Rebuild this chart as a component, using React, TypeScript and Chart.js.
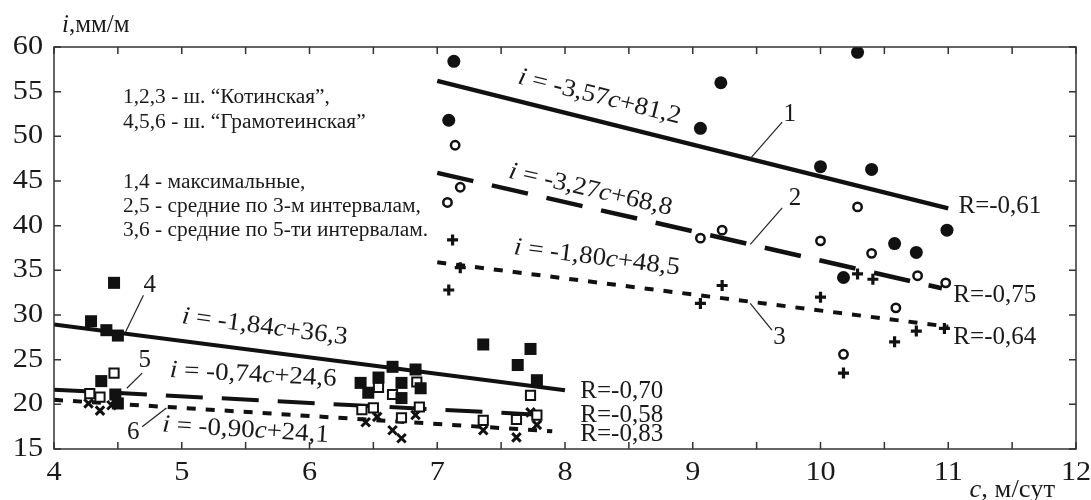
import React, { useEffect, useRef } from "react";
import { Chart, registerables } from "chart.js";

Chart.register(...registerables);

const FONT = '"Liberation Serif", "DejaVu Serif", serif';

// ---- axis ticks ----
const xTickValues = [4, 5, 6, 7, 8, 9, 10, 11, 12];
const yTickValues = [15, 20, 25, 30, 35, 40, 45, 50, 55, 60];

// ---- series: Котинская (1 max, 2 avg 3 intervals, 3 avg 5 intervals) ----
const s1C = [7.13, 7.09, 9.06, 9.22, 10.29, 10.0, 10.4, 10.99, 10.58, 10.75, 10.18];
const s1I = [58.4, 51.8, 50.9, 56.0, 59.4, 46.6, 46.3, 39.5, 38.0, 37.0, 34.2];

const s2C = [7.14, 7.08, 7.18, 9.06, 9.23, 10.29, 10.0, 10.4, 10.76, 10.98, 10.59, 10.18];
const s2I = [49.0, 42.6, 44.3, 38.6, 39.5, 42.1, 38.3, 36.9, 34.4, 33.6, 30.8, 25.6];

const s3C = [7.12, 7.18, 7.09, 9.06, 9.23, 10.0, 10.29, 10.41, 10.58, 10.75, 10.97, 10.18];
const s3I = [38.4, 35.3, 32.8, 31.3, 33.3, 32.0, 34.6, 34.0, 27.0, 28.2, 28.5, 23.5];

// ---- series: Грамотеинская (4 max, 5 avg 3 intervals, 6 avg 5 intervals) ----
const s4C = [4.47, 4.29, 4.41, 4.5, 4.37, 4.48, 4.5, 6.4, 6.46, 6.54, 6.65, 6.72, 6.72, 6.83, 6.87, 7.36, 7.63, 7.73, 7.78];
const s4I = [33.6, 29.3, 28.3, 27.7, 22.6, 21.1, 20.1, 22.4, 21.3, 23.0, 24.2, 22.4, 20.7, 23.9, 21.8, 26.7, 24.4, 26.2, 22.7];

const s5C = [4.47, 4.28, 4.36, 6.41, 6.5, 6.54, 6.65, 6.72, 6.84, 6.86, 7.36, 7.62, 7.73, 7.78];
const s5I = [23.5, 21.2, 20.8, 19.4, 19.6, 21.9, 21.1, 18.5, 22.5, 19.7, 18.2, 18.3, 21.0, 18.8];

const s6C = [4.27, 4.36, 4.45, 4.5, 6.44, 6.53, 6.65, 6.72, 6.83, 7.36, 7.62, 7.73, 7.78];
const s6I = [20.1, 19.3, 19.9, 20.0, 18.0, 18.6, 17.1, 16.2, 18.8, 17.1, 16.3, 19.1, 17.7];

// ---- regression lines i = a*c + b ----
const lineSlopes = [-3.57, -3.27, -1.8, -1.84, -0.74, -0.9];
const lineIntercepts = [81.2, 68.8, 48.5, 36.3, 24.6, 24.1];
const lineStarts = [7, 7, 7, 4, 4, 4];
const lineEnds = [11, 10.95, 11, 8, 7.8, 7.9];
const lineR = ["R=-0,61", "R=-0,75", "R=-0,64", "R=-0,70", "R=-0,58", "R=-0,83"];

// ---- legend text ----
const noteLines = [
  "1,2,3 - ш. “Котинская”,",
  "4,5,6 - ш. “Грамотеинская”",
  "1,4 - максимальные,",
  "2,5 - средние по 3-м интервалам,",
  "3,6 - средние по 5-ти интервалам.",
];

// annotation placements (data coordinates)
const eqCenters = [
  [8.27, 54.4],
  [8.2, 44.0],
  [8.25, 36.4],
  [5.65, 28.65],
  [5.56, 23.3],
  [5.5, 17.1],
];
const rLabelPos = [
  [11.08, 42.1],
  [11.04, 32.2],
  [11.04, 27.5],
  [8.12, 21.4],
  [8.12, 18.8],
  [8.12, 16.6],
];
// [textC, textI, fromC, fromI, toC, toI]
const numberLabels = [
  [9.76, 52.4, 9.45, 47.5, 9.7, 51.6],
  [9.8, 43.1, 9.45, 37.9, 9.7, 42.0],
  [9.68, 27.5, 9.45, 31.3, 9.62, 28.3],
  [4.75, 33.35, 4.56, 28.1, 4.7, 32.2],
  [4.71, 24.95, 4.57, 21.8, 4.69, 23.5],
  [4.62, 16.8, 4.69, 17.5, 4.88, 19.6],
];
const notePos = [4.54, 54.3];
const noteRowOffsets = [0, 25, 85, 109, 133];

type Part = [string, boolean];

function drawRich(
  ctx: CanvasRenderingContext2D,
  parts: Part[],
  x: number,
  y: number,
  size: number,
  align: "left" | "center" | "right",
  angle = 0,
  stretch = 1
) {
  ctx.save();
  ctx.translate(x, y);
  ctx.rotate(angle);
  ctx.scale(stretch, 1);
  ctx.textBaseline = "middle";
  ctx.textAlign = "left";
  ctx.fillStyle = "#1a1a1a";
  const fonts = parts.map((p) => `${p[1] ? "italic " : ""}${size}px ${FONT}`);
  const widths = parts.map((p, k) => {
    ctx.font = fonts[k];
    return ctx.measureText(p[0]).width;
  });
  const total = widths.reduce((a, b) => a + b, 0);
  let cx = align === "center" ? -total / 2 : align === "right" ? -total : 0;
  parts.forEach((p, k) => {
    ctx.font = fonts[k];
    ctx.fillText(p[0], cx, 0);
    cx += widths[k];
  });
  ctx.restore();
}

const fmt = (v: number) => Math.abs(v).toFixed(2).replace(".", ",");
const fmt1 = (v: number) => v.toFixed(1).replace(".", ",");

const decorPlugin = {
  id: "decor",
  afterDatasetsDraw(chart: any) {
    const ctx: CanvasRenderingContext2D = chart.ctx;
    const xs = chart.scales.x;
    const ys = chart.scales.y;
    const { left, right, top, bottom } = chart.chartArea;
    const px = (c: number) => xs.getPixelForValue(c);
    const py = (i: number) => ys.getPixelForValue(i);

    ctx.save();
    // frame
    ctx.strokeStyle = "#333";
    ctx.lineWidth = 1.5;
    ctx.strokeRect(left, top, right - left, bottom - top);
    // inward ticks
    const tl = 7;
    ctx.beginPath();
    for (let c = xTickValues[0]; c <= xTickValues[xTickValues.length - 1] + 1e-9; c += 0.5) {
      const x = px(c);
      ctx.moveTo(x, bottom);
      ctx.lineTo(x, bottom - tl);
      ctx.moveTo(x, top);
      ctx.lineTo(x, top + tl);
    }
    yTickValues.forEach((v) => {
      const y = py(v);
      ctx.moveTo(left, y);
      ctx.lineTo(left + tl, y);
      ctx.moveTo(right, y);
      ctx.lineTo(right - tl, y);
    });
    ctx.stroke();

    // y tick labels
    yTickValues.forEach((v) => {
      drawRich(ctx, [[String(v), false]], left - 11, py(v), 27, "right", 0, 1.12);
    });
    // x tick labels
    xTickValues.forEach((v) => {
      drawRich(ctx, [[String(v), false]], px(v), bottom + 24, 27, "center", 0, 1.12);
    });

    // equations along lines
    lineSlopes.forEach((a, k) => {
      const b = lineIntercepts[k];
      const [cc, ci] = eqCenters[k];
      const dx = px(cc + 1) - px(cc);
      const dy = py(ci + a) - py(ci);
      const ang = Math.atan2(dy, dx);
      const parts: Part[] = [
        ["i", true],
        [" = -" + fmt(a), false],
        ["c", true],
        ["+" + fmt1(b), false],
      ];
      drawRich(ctx, parts, px(cc), py(ci), 25, "center", ang, 1.08);
    });

    // R labels
    lineR.forEach((r, k) => {
      const [rc, ri] = rLabelPos[k];
      drawRich(ctx, [[r, false]], px(rc), py(ri), 25, "left");
    });

    // number labels with leaders
    ctx.strokeStyle = "#222";
    ctx.lineWidth = 1.2;
    numberLabels.forEach((n, k) => {
      ctx.beginPath();
      ctx.moveTo(px(n[2]), py(n[3]));
      ctx.lineTo(px(n[4]), py(n[5]));
      ctx.stroke();
      drawRich(ctx, [[String(k + 1), false]], px(n[0]), py(n[1]), 25, "center");
    });

    // notes
    noteLines.forEach((t, k) => {
      drawRich(ctx, [[t, false]], px(notePos[0]), py(notePos[1]) + noteRowOffsets[k], 20, "left", 0, 1.07);
    });

    // axis titles
    drawRich(ctx, [["i", true], [",мм/м", false]], left + 8, top - 22, 25, "left");
    drawRich(ctx, [["c", true], [", м/сут", false]], right - 21, bottom + 41, 25, "right", 0, 1.06);
    ctx.restore();
  },
};

export default function App() {
  const ref = useRef<HTMLCanvasElement | null>(null);

  useEffect(() => {
    if (!ref.current) return;
    const toPts = (cs: number[], is: number[]) => cs.map((c, k) => ({ x: c, y: is[k] }));
    const black = "#111";

    const pointSets: any[] = [
      { data: toPts(s1C, s1I), pointStyle: "circle", pointRadius: 6.5, backgroundColor: black, borderColor: black, pointBorderWidth: 0 },
      { data: toPts(s2C, s2I), pointStyle: "circle", pointRadius: 4.2, backgroundColor: "#fff", borderColor: black, pointBorderWidth: 2.5 },
      { data: toPts(s3C, s3I), pointStyle: "cross", pointRadius: 5.5, backgroundColor: black, borderColor: black, pointBorderWidth: 3.2 },
      { data: toPts(s4C, s4I), pointStyle: "rect", pointRadius: 8.5, backgroundColor: black, borderColor: black, pointBorderWidth: 0 },
      { data: toPts(s5C, s5I), pointStyle: "rect", pointRadius: 6.5, backgroundColor: "#fff", borderColor: black, pointBorderWidth: 2 },
      { data: toPts(s6C, s6I), pointStyle: "crossRot", pointRadius: 6, backgroundColor: black, borderColor: black, pointBorderWidth: 3 },
    ].map((d) => ({ ...d, showLine: false, pointHoverRadius: d.pointRadius }));

    const dashes = [[], [37, 19], [9, 10], [], [37, 19], [9, 10]];
    const widths = [4.5, 4.5, 4, 4, 4, 4];
    const lineSets: any[] = lineSlopes.map((a, k) => {
      const b = lineIntercepts[k];
      return {
        data: [
          { x: lineStarts[k], y: a * lineStarts[k] + b },
          { x: lineEnds[k], y: a * lineEnds[k] + b },
        ],
        showLine: true,
        borderColor: black,
        borderWidth: widths[k],
        borderDash: dashes[k],
        pointRadius: 0,
        pointHoverRadius: 0,
        fill: false,
      };
    });

    const chart = new Chart(ref.current, {
      type: "scatter",
      data: { datasets: [...pointSets, ...lineSets] },
      options: {
        responsive: false,
        animation: false,
        events: [],
        layout: { padding: { top: 47, right: 15, left: 0, bottom: 0 } },
        plugins: { legend: { display: false }, tooltip: { enabled: false } },
        scales: {
          x: {
            type: "linear",
            min: xTickValues[0],
            max: xTickValues[xTickValues.length - 1],
            afterBuildTicks: (s: any) => {
              s.ticks = xTickValues.map((v) => ({ value: v }));
            },
            afterFit: (s: any) => {
              s.height = 51;
            },
            ticks: { display: false },
            grid: { display: false, drawTicks: false },
            border: { display: false },
          },
          y: {
            type: "linear",
            min: yTickValues[0],
            max: yTickValues[yTickValues.length - 1],
            afterBuildTicks: (s: any) => {
              s.ticks = yTickValues.map((v) => ({ value: v }));
            },
            afterFit: (s: any) => {
              s.width = 54;
            },
            ticks: { display: false },
            grid: { display: false, drawTicks: false },
            border: { display: false },
          },
        },
      },
      plugins: [decorPlugin],
    });
    return () => chart.destroy();
  }, []);

  return (
    <div style={{ position: "fixed", left: 0, top: 0, width: 1091, height: 500, background: "#fff" }}>
      <canvas ref={ref} width={1091} height={500} style={{ display: "block" }} />
    </div>
  );
}
